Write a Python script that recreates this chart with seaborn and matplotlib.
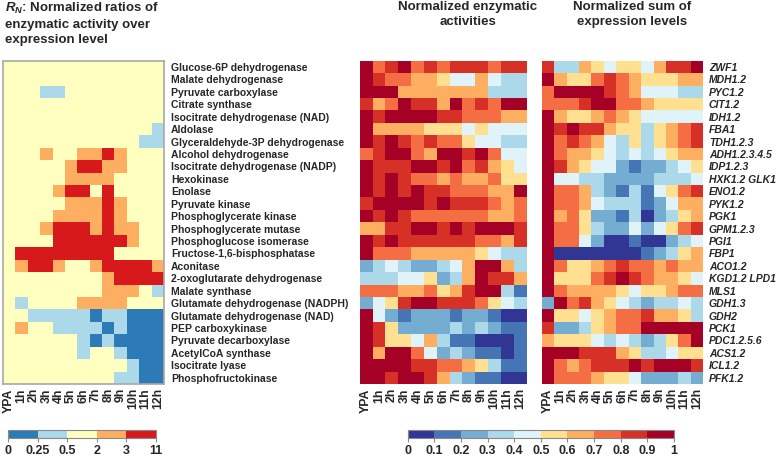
import numpy as np
import pandas as pd
import matplotlib
matplotlib.use('Agg')
import matplotlib.pyplot as plt
import seaborn as sns
from matplotlib.colors import ListedColormap, BoundaryNorm
from matplotlib.cm import ScalarMappable

sns.set_style('white')
plt.rcParams['font.family'] = ['Liberation Sans', 'DejaVu Sans']
plt.rcParams['mathtext.fontset'] = 'custom'
plt.rcParams['mathtext.it'] = 'Liberation Sans:italic:bold'
plt.rcParams['mathtext.rm'] = 'Liberation Sans:bold'

# --- data ---
time_points = ['YPA', '1h', '2h', '3h', '4h', '5h', '6h', '7h', '8h', '9h', '10h', '11h', '12h']

enzymes = ['Glucose-6P dehydrogenase', 'Malate dehydrogenase', 'Pyruvate carboxylase',
           'Citrate synthase', 'Isocitrate dehydrogenase (NAD)', 'Aldolase',
           'Glyceraldehyde-3P dehydrogenase', 'Alcohol dehydrogenase',
           'Isocitrate dehydrogenase (NADP)', 'Hexokinase', 'Enolase', 'Pyruvate kinase',
           'Phosphoglycerate kinase', 'Phosphoglycerate mutase', 'Phosphoglucose isomerase',
           'Fructose-1,6-bisphosphatase', 'Aconitase', '2-oxoglutarate dehydrogenase',
           'Malate synthase', 'Glutamate dehydrogenase (NADPH)', 'Glutamate dehydrogenase (NAD)',
           'PEP carboxykinase', 'Pyruvate decarboxylase', 'AcetylCoA synthase',
           'Isocitrate lyase', 'Phosphofructokinase']

genes = ['ZWF1', 'MDH1.2', 'PYC1.2', 'CIT1.2', 'IDH1.2', 'FBA1', 'TDH1.2.3', 'ADH1.2.3.4.5',
         'IDP1.2.3', 'HXK1.2 GLK1', 'ENO1.2', 'PYK1.2', 'PGK1', 'GPM1.2.3', 'PGI1', 'FBP1',
         'ACO1.2', 'KGD1.2 LPD1', 'MLS1', 'GDH1.3', 'GDH2', 'PCK1', 'PDC1.2.5.6', 'ACS1.2',
         'ICL1.2', 'PFK1.2']

# R_N ratios (read as the colour class of each cell)
ratio_values = [
    [1, 1, 1, 1, 1, 1, 1, 1, 1, 1, 1, 1, 1],
    [1, 1, 1, 1, 1, 1, 1, 1, 1, 1, 1, 1, 1],
    [1, 1, 1, .4, .4, 1, 1, 1, 1, 1, 1, 1, 1],
    [1, 1, 1, 1, 1, 1, 1, 1, 1, 1, 1, 1, 1],
    [1, 1, 1, 1, 1, 1, 1, 1, 1, 1, 1, 1, 1],
    [1, 1, 1, 1, 1, 1, 1, 1, 1, 1, 1, 1, .4],
    [1, 1, 1, 1, 1, 1, 1, 1, 1, 1, 1, .4, .4],
    [1, 1, 1, 2.5, 1, 1, 2.5, 2.5, 5, 2.5, 1, 1, 1],
    [1, 1, 1, 1, 1, 2.5, 5, 5, 2.5, 2.5, 1, 1, 1],
    [1, 1, 1, 1, 1, 2.5, 2.5, 2.5, 2.5, 1, 1, 1, 1],
    [1, 1, 1, 1, 2.5, 5, 5, 1, 5, 1, 1, 1, 1],
    [1, 1, 1, 1, 1, 2.5, 2.5, 2.5, 5, 2.5, 1, 1, 1],
    [1, 1, 1, 1, 2.5, 2.5, 2.5, 2.5, 5, 2.5, 1, 1, 1],
    [1, 1, 1, 2.5, 5, 5, 5, 2.5, 5, 2.5, 2.5, 1, 1],
    [1, 1, 1, 1, 5, 5, 5, 5, 5, 5, 2.5, 1, 1],
    [1, 5, 5, 5, 5, 5, 5, 5, 5, 1, 1, 1, 1],
    [1, 2.5, 5, 5, 2.5, 1, 1, 2.5, 5, 5, 5, 5, 2.5],
    [1, 1, 1, 1, 1, 1, 1, 1, 2.5, 5, 5, 5, 5],
    [1, 1, 1, 1, 1, 1, 1, 1, 2.5, 2.5, 2.5, 1, .4],
    [1, .4, 1, 1, 1, 1, 2.5, 2.5, 2.5, 2.5, 1, 1, 1],
    [1, 1, .4, .4, .4, .4, .4, .1, .4, .4, .1, .1, .1],
    [1, 2.5, 1, 1, .4, .4, .4, .4, .1, .4, .1, .1, .1],
    [1, 1, 1, 1, 1, 1, .4, .1, .4, .1, .1, .1, .1],
    [1, 1, 1, 1, 1, 1, .4, 1, 1, .4, .1, .1, .1],
    [1, 1, 1, 1, 1, 1, 1, 1, 1, 1, .4, .1, .1],
    [1, 1, 1, 1, 1, 1, 1, 1, 1, .4, .4, .1, .1],
]

activity_values = [
    [.95, .75, .85, .95, .75, .85, .75, .85, .85, .85, .75, .85, .85],
    [.95, .85, .75, .75, .65, .65, .55, .45, .45, .65, .45, .35, .35],
    [.95, .95, .95, .65, .65, .65, .65, .65, .65, .65, .35, .35, .35],
    [.85, .65, .75, .95, .85, .85, .65, .95, .75, .85, .75, .95, .95],
    [.95, .85, .95, .95, .95, .95, .85, .85, .75, .75, .75, .65, .65],
    [.95, .65, .65, .65, .65, .55, .55, .55, .45, .55, .45, .45, .45],
    [.95, .85, .95, .85, .75, .85, .75, .75, .55, .45, .45, .35, .35],
    [.75, .85, .95, .95, .75, .65, .95, .95, .85, .95, .75, .45, .45],
    [.95, .85, .85, .85, .95, .95, .85, .95, .75, .85, .65, .55, .45],
    [.95, .85, .95, .85, .75, .75, .65, .75, .65, .65, .75, .55, .55],
    [.95, .85, .95, .85, .95, .85, .85, .75, .75, .75, .65, .65, .95],
    [.85, .95, .95, .95, .95, .85, .95, .85, .85, .85, .75, .65, .75],
    [.95, .85, .95, .85, .75, .75, .75, .75, .75, .75, .65, .65, .75],
    [.65, .65, .85, .85, .95, .95, .85, .95, .85, .95, .95, .95, .85],
    [.95, .85, .95, .85, .85, .85, .85, .85, .85, .75, .75, .65, .85],
    [.95, .75, .75, .75, .65, .65, .65, .65, .65, .55, .45, .35, .35],
    [.25, .35, .45, .35, .25, .25, .35, .45, .65, .95, .95, .65, .35],
    [.35, .35, .35, .45, .45, .55, .25, .35, .65, .95, .85, .85, .65],
    [.75, .75, .75, .65, .65, .75, .55, .65, .85, .95, .95, .35, .15],
    [.25, .45, .55, .85, .95, .95, .85, .85, .85, .75, .55, .45, .35],
    [.95, .45, .25, .15, .25, .25, .25, .15, .25, .25, .15, .05, .05],
    [.95, .85, .55, .25, .25, .25, .25, .35, .25, .35, .25, .15, .15],
    [.95, .85, .55, .55, .45, .65, .35, .15, .15, .05, .05, .05, .15],
    [.95, .65, .95, .95, .75, .45, .25, .35, .25, .15, .15, .05, .15],
    [.95, .95, .95, .95, .85, .85, .75, .75, .65, .55, .35, .15, .15],
    [.95, .95, .85, .95, .95, .85, .65, .35, .25, .15, .15, .05, .05],
]

expression_values = [
    [.85, .35, .35, .65, .55, .45, .55, .55, .45, .65, .85, .85, .95],
    [.95, .65, .55, .55, .75, .85, .75, .65, .55, .55, .55, .65, .65],
    [.75, .95, .95, .95, .95, .85, .75, .65, .45, .45, .45, .35, .35],
    [.75, .75, .75, .85, .95, .95, .75, .75, .65, .55, .55, .55, .55],
    [.95, .65, .55, .55, .65, .75, .65, .55, .45, .45, .45, .45, .45],
    [.95, .85, .95, .85, .85, .65, .55, .55, .35, .55, .65, .75, .85],
    [.95, .75, .85, .75, .65, .45, .35, .55, .35, .55, .65, .75, .85],
    [.95, .75, .65, .65, .55, .45, .35, .45, .35, .45, .55, .65, .65],
    [.95, .85, .65, .55, .45, .45, .25, .15, .25, .25, .35, .45, .55],
    [.95, .45, .45, .35, .35, .25, .25, .25, .25, .35, .35, .35, .45],
    [.95, .75, .75, .65, .35, .25, .15, .35, .15, .45, .55, .75, .85],
    [.95, .75, .75, .65, .45, .35, .35, .35, .15, .25, .45, .65, .65],
    [.95, .65, .75, .55, .25, .25, .15, .35, .05, .25, .35, .55, .65],
    [.95, .75, .75, .55, .35, .25, .25, .45, .25, .45, .55, .75, .85],
    [.95, .75, .75, .45, .25, .05, .05, .15, .05, .05, .25, .35, .45],
    [.95, .05, .05, .05, .05, .05, .05, .05, .15, .25, .35, .55, .65],
    [.95, .75, .55, .55, .65, .75, .85, .75, .75, .65, .75, .65, .65],
    [.95, .55, .55, .55, .75, .85, .95, .85, .75, .65, .65, .55, .45],
    [.95, .75, .65, .65, .65, .65, .55, .45, .55, .55, .65, .75, .75],
    [.25, .95, .75, .85, .65, .55, .45, .35, .25, .35, .35, .45, .35],
    [.95, .55, .55, .45, .55, .65, .75, .75, .85, .65, .65, .55, .35],
    [.85, .25, .25, .35, .55, .65, .75, .75, .95, .95, .95, .95, .95],
    [.65, .55, .55, .55, .45, .35, .45, .35, .25, .35, .55, .75, .95],
    [.95, .95, .95, .85, .85, .85, .65, .55, .35, .35, .45, .55, .55],
    [.95, .75, .65, .75, .85, .85, .85, .95, .85, .95, .95, .95, .85],
    [.95, .75, .75, .75, .65, .55, .55, .45, .25, .25, .25, .35, .25],
]

ratio_bounds = [0, 0.25, 0.5, 2, 3, 11]
ratio_ticklabels = ['0', '0.25', '0.5', '2', '3', '11']
ratio_colors = ['#2c7bb6', '#abd9e9', '#ffffbf', '#fdae61', '#d7191c']

level_bounds = [0, 0.1, 0.2, 0.3, 0.4, 0.5, 0.6, 0.7, 0.8, 0.9, 1]
level_ticklabels = ['0', '0.1', '0.2', '0.3', '0.4', '0.5', '0.6', '0.7', '0.8', '0.9', '1']
level_colors = ['#313695', '#4575b4', '#74add1', '#abd9e9', '#e0f3f8',
                '#fee090', '#fdae61', '#f46d43', '#d73027', '#a50026']

# --- figure ---
W, H = 778, 459
fig = plt.figure(figsize=(W / 100, H / 100), dpi=100)


def px_axes(x0, y0, x1, y1):
    return fig.add_axes([x0 / W, 1 - y1 / H, (x1 - x0) / W, (y1 - y0) / H])


ratio_cmap = ListedColormap(ratio_colors)
ratio_norm = BoundaryNorm(ratio_bounds, ratio_cmap.N)
level_cmap = ListedColormap(level_colors)
level_norm = BoundaryNorm(level_bounds, level_cmap.N)

label_font = dict(fontsize=7.5, fontweight='bold')

# left heatmap: ratios
ax1 = px_axes(3, 60.7, 164, 384)
df_ratio = pd.DataFrame(ratio_values, index=enzymes, columns=time_points)
sns.heatmap(df_ratio, ax=ax1, cmap=ratio_cmap, norm=ratio_norm, cbar=False,
            xticklabels=True, yticklabels=True)
ax1.yaxis.tick_right()
ax1.set_yticklabels(enzymes, rotation=0, **label_font)
for s in ax1.spines.values():
    s.set_visible(True)
    s.set_color('#a8a8a8')
    s.set_linewidth(1.2)

# middle heatmap: activities
ax2 = px_axes(359.7, 60.7, 526.7, 384)
df_act = pd.DataFrame(activity_values, index=enzymes, columns=time_points)
sns.heatmap(df_act, ax=ax2, cmap=level_cmap, norm=level_norm, cbar=False,
            xticklabels=True, yticklabels=False)

# right heatmap: expression
ax3 = px_axes(541.7, 60.7, 703.3, 384)
df_exp = pd.DataFrame(expression_values, index=genes, columns=time_points)
sns.heatmap(df_exp, ax=ax3, cmap=level_cmap, norm=level_norm, cbar=False,
            xticklabels=True, yticklabels=True)
ax3.yaxis.tick_right()
ax3.set_yticklabels(genes, rotation=0, fontstyle='italic', **label_font)

for ax in (ax1, ax2, ax3):
    ax.set_xlabel('')
    ax.set_ylabel('')
    ax.set_xticklabels(time_points, rotation=90, fontsize=8.8, fontweight='bold')
    ax.tick_params(length=0, pad=3)
ax1.tick_params(axis='y', pad=5)
ax3.tick_params(axis='y', pad=4)

# titles
title_font = dict(va='top', fontsize=9.5, fontweight='bold', linespacing=1.35)
fig.text(5 / W, 1 - 1 / H, '$R_N$: Normalized ratios of\nenzymatic activity over\nexpression level',
         ha='left', **title_font)
fig.text(468 / W, 1 - 1 / H, 'Normalized enzymatic\nactivities', ha='center', **title_font)
fig.text(632 / W, 1 - 1 / H, 'Normalized sum of\nexpression levels', ha='center', **title_font)

# colour bars
cax1 = px_axes(8, 430, 156, 438)
cb1 = fig.colorbar(ScalarMappable(norm=ratio_norm, cmap=ratio_cmap), cax=cax1,
                   orientation='horizontal', spacing='uniform', ticks=ratio_bounds)
cb1.ax.set_xticklabels(ratio_ticklabels, fontsize=9, fontweight='bold')

cax2 = px_axes(407.7, 430, 674, 438)
cb2 = fig.colorbar(ScalarMappable(norm=level_norm, cmap=level_cmap), cax=cax2,
                   orientation='horizontal', spacing='uniform', ticks=level_bounds)
cb2.ax.set_xticklabels(level_ticklabels, fontsize=9, fontweight='bold')

for cb in (cb1, cb2):
    cb.outline.set_edgecolor('#888888')
    cb.outline.set_linewidth(0.8)
    cb.ax.tick_params(axis='x', length=3, width=0.8, color='#888888', pad=2)

fig.savefig('out.png', dpi=100)
